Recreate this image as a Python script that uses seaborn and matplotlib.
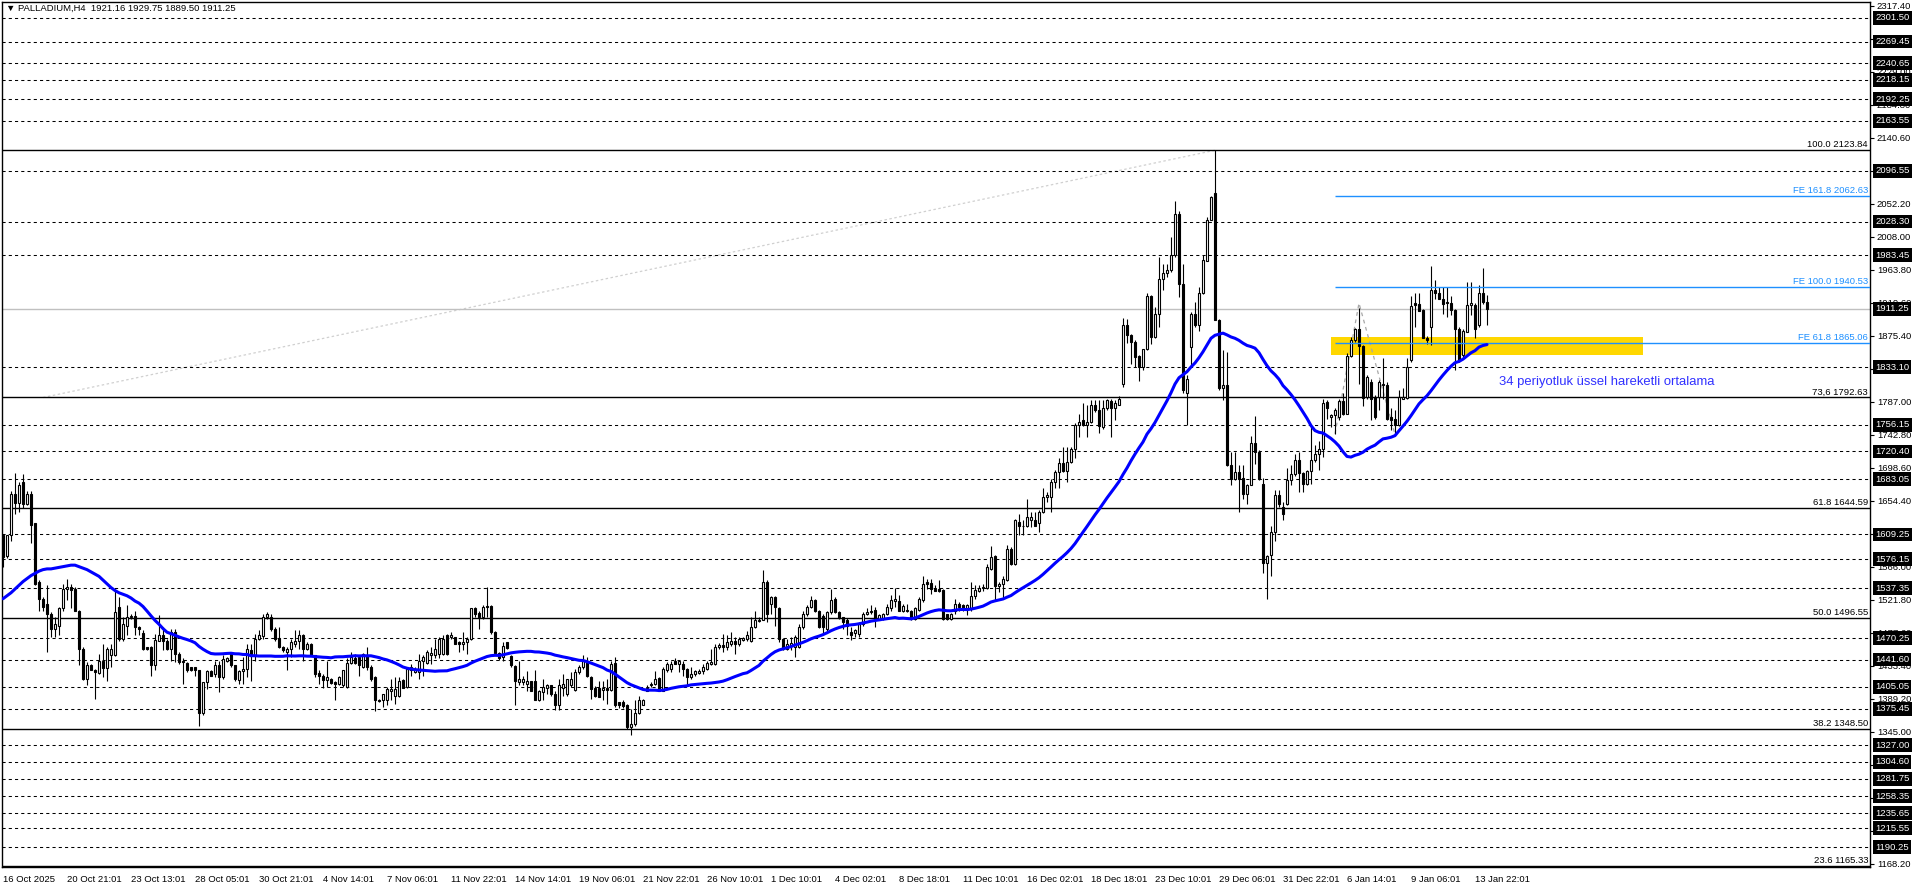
import numpy as np
import pandas as pd
import matplotlib
matplotlib.use("Agg")
import matplotlib.pyplot as plt
import matplotlib.patches as mpatches
import seaborn as sns

# ---------------- data (PALLADIUM H4) ----------------
opens = [
    1608, 1580, 1608, 1663, 1651, 1680, 1650, 1664, 1624, 1545, 1523, 1516, 1503, 1483, 1487, 1510, 1536, 1539, 1536, 1507,
    1456, 1416, 1434, 1428, 1423, 1440, 1430, 1447, 1447, 1512, 1469, 1487, 1498, 1500, 1485, 1477, 1458, 1459, 1434, 1467,
    1474, 1467, 1455, 1478, 1449, 1440, 1437, 1431, 1431, 1427, 1370, 1411, 1426, 1422, 1434, 1418, 1440, 1449, 1434, 1414,
    1426, 1429, 1454, 1447, 1469, 1473, 1498, 1498, 1483, 1471, 1459, 1451, 1455, 1463, 1467, 1474, 1456, 1463, 1447, 1424,
    1420, 1414, 1415, 1411, 1409, 1407, 1405, 1437, 1443, 1445, 1431, 1448, 1432, 1418, 1388, 1387, 1388, 1400, 1393, 1393,
    1414, 1405, 1427, 1425, 1425, 1440, 1437, 1448, 1447, 1449, 1449, 1474, 1472, 1472, 1465, 1463, 1465, 1469, 1510, 1504,
    1498, 1513, 1513, 1478, 1450, 1445, 1465, 1446, 1433, 1411, 1411, 1409, 1413, 1413, 1388, 1398, 1404, 1407, 1395, 1380,
    1404, 1396, 1407, 1401, 1425, 1431, 1438, 1418, 1404, 1403, 1401, 1404, 1401, 1437, 1384, 1384, 1380, 1351, 1355, 1370,
    1381, 1400, 1407, 1409, 1417, 1400, 1427, 1429, 1440, 1436, 1436, 1429, 1418, 1422, 1423, 1426, 1429, 1435, 1435, 1458,
    1461, 1458, 1463, 1467, 1462, 1468, 1469, 1467, 1485, 1493, 1494, 1545, 1516, 1525, 1510, 1469, 1456, 1460, 1458, 1458,
    1485, 1503, 1512, 1521, 1507, 1500, 1483, 1505, 1522, 1505, 1498, 1495, 1478, 1477, 1476, 1489, 1503, 1505, 1508, 1495,
    1497, 1502, 1511, 1520, 1520, 1507, 1507, 1507, 1496, 1508, 1521, 1545, 1544, 1536, 1536, 1535, 1503, 1496, 1507, 1516,
    1514, 1510, 1510, 1527, 1533, 1537, 1538, 1563, 1580, 1540, 1543, 1548, 1590, 1569, 1626, 1620, 1620, 1628, 1629, 1624,
    1639, 1659, 1659, 1680, 1693, 1705, 1694, 1706, 1723, 1756, 1762, 1756, 1760, 1783, 1776, 1753, 1778, 1788, 1779, 1783,
    1811, 1890, 1876, 1867, 1848, 1834, 1857, 1928, 1874, 1905, 1952, 1960, 1963, 1983, 2038, 1945, 1798, 1860, 1905, 1890,
    1933, 1976, 2031, 2067, 1897, 1805, 1809, 1702, 1683, 1693, 1685, 1663, 1676, 1732, 1720, 1677, 1571, 1581, 1612, 1662,
    1646, 1650, 1682, 1690, 1709, 1691, 1677, 1694, 1709, 1717, 1724, 1786, 1767, 1769, 1767, 1788, 1771, 1848, 1869, 1885,
    1861, 1793, 1813, 1793, 1793, 1809, 1810, 1766, 1764, 1756, 1791, 1792, 1843, 1919, 1918, 1910, 1873, 1887, 1936, 1933,
    1925, 1921, 1919, 1910, 1884, 1849, 1881, 1916, 1916, 1890, 1933, 1921.16,
]
highs = [
    1610, 1609, 1668, 1691, 1680, 1690, 1668, 1668, 1625, 1548, 1525, 1541, 1505, 1498, 1512, 1543, 1550, 1543, 1539, 1508,
    1458, 1438, 1436, 1429, 1449, 1463, 1458, 1463, 1536, 1525, 1498, 1514, 1503, 1507, 1487, 1481, 1459, 1460, 1476, 1501,
    1485, 1469, 1483, 1483, 1451, 1443, 1438, 1431, 1431, 1428, 1412, 1427, 1428, 1440, 1440, 1447, 1445, 1450, 1434, 1427,
    1445, 1463, 1463, 1476, 1481, 1503, 1505, 1503, 1485, 1485, 1460, 1458, 1469, 1481, 1481, 1476, 1465, 1464, 1448, 1427,
    1422, 1440, 1417, 1413, 1420, 1428, 1443, 1451, 1449, 1447, 1450, 1458, 1434, 1420, 1389, 1396, 1405, 1416, 1418, 1418,
    1416, 1431, 1436, 1431, 1449, 1447, 1454, 1458, 1469, 1472, 1475, 1476, 1478, 1472, 1467, 1478, 1472, 1511, 1512, 1507,
    1514, 1539, 1514, 1480, 1452, 1465, 1465, 1447, 1434, 1440, 1419, 1426, 1413, 1427, 1401, 1416, 1409, 1408, 1400, 1416,
    1422, 1416, 1425, 1429, 1434, 1447, 1445, 1420, 1406, 1413, 1413, 1416, 1440, 1445, 1384, 1387, 1382, 1375, 1388, 1393,
    1389, 1407, 1411, 1426, 1418, 1431, 1438, 1440, 1444, 1441, 1440, 1430, 1431, 1428, 1429, 1435, 1440, 1456, 1463, 1464,
    1476, 1474, 1478, 1472, 1472, 1472, 1480, 1498, 1507, 1498, 1562, 1548, 1527, 1527, 1512, 1470, 1469, 1472, 1474, 1489,
    1507, 1514, 1527, 1522, 1508, 1503, 1507, 1536, 1525, 1506, 1499, 1497, 1485, 1483, 1492, 1505, 1510, 1514, 1512, 1503,
    1504, 1516, 1528, 1538, 1528, 1516, 1516, 1508, 1512, 1525, 1554, 1550, 1549, 1541, 1548, 1536, 1503, 1504, 1523, 1518,
    1516, 1516, 1545, 1541, 1541, 1543, 1570, 1593, 1581, 1545, 1554, 1595, 1592, 1630, 1637, 1628, 1657, 1639, 1639, 1642,
    1671, 1666, 1684, 1695, 1711, 1726, 1726, 1726, 1758, 1771, 1785, 1782, 1789, 1789, 1789, 1789, 1791, 1791, 1789, 1794,
    1899, 1898, 1878, 1869, 1849, 1858, 1932, 1930, 1914, 1981, 1972, 1972, 2008, 2056, 2042, 1971, 1823, 1907, 1921, 1941,
    1983, 2035, 2063, 2123.84, 1898, 1856, 1854, 1720, 1720, 1702, 1702, 1677, 1741, 1768, 1722, 1685, 1581, 1620, 1669, 1669,
    1653, 1698, 1702, 1717, 1720, 1693, 1695, 1755, 1729, 1735, 1791, 1789, 1771, 1778, 1791, 1798, 1852, 1874, 1886, 1912,
    1863, 1823, 1818, 1796, 1816, 1845, 1814, 1778, 1776, 1803, 1805, 1845, 1928, 1932, 1933, 1911, 1875, 1969, 1950, 1941,
    1941, 1940, 1928, 1911, 1887, 1884, 1948, 1948, 1919, 1943, 1966, 1929.75,
]
lows = [
    1566, 1578, 1601, 1637, 1639, 1644, 1649, 1598, 1541, 1507, 1507, 1452, 1472, 1472, 1474, 1507, 1521, 1510, 1506, 1434,
    1414, 1407, 1427, 1389, 1422, 1418, 1413, 1431, 1446, 1467, 1467, 1474, 1496, 1474, 1474, 1454, 1454, 1420, 1427, 1466,
    1454, 1454, 1440, 1438, 1436, 1409, 1425, 1426, 1420, 1353, 1367, 1402, 1419, 1418, 1398, 1416, 1438, 1432, 1413, 1409,
    1409, 1418, 1413, 1440, 1468, 1469, 1496, 1480, 1467, 1457, 1451, 1428, 1445, 1458, 1456, 1440, 1454, 1446, 1418, 1409,
    1404, 1405, 1409, 1387, 1407, 1405, 1404, 1436, 1436, 1420, 1430, 1427, 1413, 1373, 1384, 1378, 1380, 1387, 1382, 1391,
    1403, 1404, 1420, 1424, 1416, 1420, 1436, 1436, 1443, 1443, 1448, 1447, 1469, 1462, 1451, 1454, 1449, 1468, 1498, 1483,
    1496, 1498, 1476, 1447, 1441, 1440, 1456, 1432, 1380, 1407, 1408, 1400, 1400, 1387, 1386, 1387, 1396, 1393, 1374, 1374,
    1393, 1393, 1405, 1400, 1422, 1429, 1418, 1389, 1391, 1391, 1387, 1382, 1400, 1378, 1376, 1376, 1349, 1340, 1353, 1369,
    1380, 1399, 1405, 1407, 1399, 1399, 1425, 1425, 1435, 1425, 1420, 1408, 1416, 1420, 1422, 1422, 1427, 1434, 1434, 1456,
    1451, 1454, 1460, 1449, 1460, 1467, 1467, 1465, 1484, 1492, 1494, 1492, 1503, 1487, 1465, 1454, 1454, 1454, 1445, 1457,
    1483, 1500, 1510, 1505, 1484, 1476, 1480, 1503, 1504, 1496, 1483, 1475, 1468, 1472, 1472, 1487, 1501, 1502, 1485, 1494,
    1494, 1501, 1507, 1512, 1506, 1505, 1505, 1495, 1495, 1506, 1519, 1536, 1530, 1533, 1532, 1495, 1495, 1495, 1503, 1506,
    1507, 1501, 1507, 1523, 1532, 1534, 1536, 1561, 1521, 1532, 1524, 1547, 1568, 1568, 1608, 1608, 1619, 1619, 1620, 1612,
    1638, 1653, 1639, 1671, 1671, 1693, 1680, 1705, 1711, 1740, 1755, 1740, 1758, 1773, 1745, 1751, 1776, 1740, 1762, 1782,
    1807, 1865, 1838, 1834, 1815, 1829, 1856, 1864, 1872, 1887, 1937, 1954, 1961, 1981, 1927, 1799, 1756, 1834, 1887, 1882,
    1931, 1975, 2030, 1896, 1803, 1789, 1701, 1675, 1682, 1639, 1657, 1650, 1675, 1704, 1682, 1557, 1523, 1554, 1601, 1646,
    1628, 1649, 1676, 1688, 1666, 1666, 1676, 1677, 1706, 1695, 1713, 1764, 1753, 1744, 1762, 1769, 1770, 1847, 1867, 1811,
    1781, 1791, 1762, 1764, 1776, 1791, 1763, 1749, 1743, 1755, 1790, 1791, 1840, 1887, 1908, 1872, 1864, 1863, 1925, 1924,
    1905, 1901, 1903, 1829, 1840, 1847, 1880, 1903, 1872, 1887, 1918, 1889.50,
]
closes = [
    1579, 1608, 1663, 1651, 1675, 1650, 1663, 1622, 1543, 1523, 1512, 1503, 1483, 1489, 1510, 1536, 1539, 1535, 1507, 1456,
    1416, 1434, 1428, 1425, 1440, 1430, 1456, 1456, 1505, 1469, 1489, 1498, 1500, 1485, 1483, 1455, 1455, 1434, 1468, 1474,
    1466, 1455, 1478, 1449, 1438, 1438, 1427, 1427, 1427, 1370, 1411, 1426, 1420, 1434, 1418, 1442, 1443, 1434, 1415, 1426,
    1429, 1456, 1447, 1469, 1475, 1498, 1503, 1483, 1469, 1458, 1454, 1456, 1465, 1467, 1474, 1456, 1463, 1447, 1422, 1420,
    1414, 1418, 1410, 1409, 1418, 1427, 1437, 1445, 1437, 1434, 1449, 1432, 1416, 1388, 1386, 1395, 1402, 1402, 1402, 1413,
    1404, 1429, 1432, 1429, 1440, 1445, 1452, 1450, 1456, 1469, 1469, 1449, 1474, 1463, 1463, 1465, 1469, 1510, 1503, 1498,
    1512, 1512, 1478, 1450, 1443, 1460, 1457, 1434, 1413, 1415, 1416, 1413, 1400, 1388, 1400, 1405, 1408, 1395, 1380, 1408,
    1409, 1416, 1416, 1425, 1431, 1439, 1420, 1402, 1393, 1392, 1404, 1401, 1436, 1380, 1380, 1379, 1351, 1355, 1370, 1388,
    1388, 1404, 1409, 1416, 1400, 1429, 1436, 1436, 1436, 1440, 1429, 1418, 1422, 1426, 1426, 1431, 1437, 1438, 1458, 1461,
    1458, 1465, 1467, 1462, 1469, 1470, 1475, 1485, 1495, 1495, 1545, 1503, 1525, 1512, 1469, 1456, 1463, 1464, 1472, 1485,
    1503, 1512, 1521, 1507, 1485, 1485, 1505, 1521, 1505, 1497, 1492, 1487, 1475, 1481, 1489, 1502, 1505, 1507, 1495, 1501,
    1503, 1512, 1521, 1522, 1507, 1513, 1508, 1496, 1511, 1522, 1543, 1543, 1536, 1534, 1534, 1496, 1496, 1503, 1516, 1512,
    1510, 1514, 1527, 1535, 1538, 1539, 1565, 1579, 1540, 1543, 1549, 1590, 1569, 1628, 1621, 1621, 1632, 1632, 1621, 1639,
    1659, 1662, 1680, 1693, 1705, 1694, 1706, 1723, 1756, 1760, 1756, 1760, 1783, 1776, 1754, 1778, 1789, 1779, 1785, 1791,
    1890, 1876, 1867, 1847, 1834, 1857, 1928, 1874, 1905, 1952, 1960, 1963, 1983, 2038, 1945, 1802, 1817, 1905, 1890, 1933,
    1977, 2031, 2061, 1897, 1805, 1809, 1702, 1683, 1693, 1683, 1663, 1675, 1732, 1720, 1683, 1571, 1580, 1612, 1662, 1650,
    1636, 1682, 1690, 1709, 1691, 1677, 1694, 1709, 1717, 1724, 1785, 1778, 1769, 1776, 1788, 1771, 1848, 1869, 1885, 1861,
    1792, 1820, 1791, 1767, 1814, 1811, 1764, 1763, 1756, 1793, 1793, 1833, 1915, 1916, 1909, 1873, 1869, 1936, 1933, 1925,
    1918, 1919, 1910, 1884, 1843, 1882, 1916, 1919, 1885, 1933, 1921, 1911.25,
]

# 34-bar moving average: the first bars depend on history left of the chart,
# so those values are read off the picture; the rest is the rolling mean.
ma_period = 34
ma_head = [1523, 1527, 1531, 1536, 1541, 1546, 1550, 1554, 1557, 1560, 1562, 1563, 1563, 1564, 1565, 1566, 1567,
           1568, 1568, 1566, 1564, 1562, 1559, 1556, 1553, 1548, 1543, 1538, 1534, 1531, 1529, 1527, 1524]

date_labels = ["16 Oct 2025", "20 Oct 21:01", "23 Oct 13:01", "28 Oct 05:01", "30 Oct 21:01",
               "4 Nov 14:01", "7 Nov 06:01", "11 Nov 22:01", "14 Nov 14:01", "19 Nov 06:01",
               "21 Nov 22:01", "26 Nov 10:01", "1 Dec 10:01", "4 Dec 02:01", "8 Dec 18:01",
               "11 Dec 10:01", "16 Dec 02:01", "18 Dec 18:01", "23 Dec 10:01", "29 Dec 06:01",
               "31 Dec 22:01", "6 Jan 14:01", "9 Jan 06:01", "13 Jan 22:01"]
bars_per_label = 16

# support / resistance levels (dashed) shown with black price tags
sr_levels = [2301.50, 2269.45, 2240.65, 2218.15, 2192.25, 2163.55, 2096.55, 2028.30, 1983.45,
             1833.10, 1756.15, 1720.40, 1683.05, 1609.25, 1576.15, 1537.35, 1470.25, 1441.60,
             1405.05, 1375.45, 1327.00, 1304.60, 1281.75, 1258.35, 1235.65, 1215.55, 1190.25]
fib_levels = [2123.84, 1792.63, 1644.59, 1496.55, 1348.50, 1165.33]
fib_names = ["100.0 2123.84", "73,6 1792.63", "61.8 1644.59", "50.0 1496.55", "38.2 1348.50", "23.6 1165.33"]
fe_levels = [2062.63, 1940.53, 1865.06]
fe_names = ["FE 161.8 2062.63", "FE 100.0 1940.53", "FE 61.8 1865.06"]
fe_start_bar = 333
fe_points_bar = [333, 339, 348]
fe_points_price = [1744.0, 1919.0, 1742.96]
trend_bar = [10, 303]
trend_price = [1792.6, 2123.84]
zone_bars = [332, 410]
zone_prices = [1850.0, 1873.3]
last_price = 1911.25
title = "\u25bc PALLADIUM,H4  1921.16 1929.75 1889.50 1911.25"
ema_note = "34 periyotluk \u00fcssel hareketli ortalama"
note_bar, note_price = 374, 1813

# axis ranges
price_ticks = np.arange(1168.20, 2320, 44.2)
y_min, y_max = 1163.6, 2322.5
x_min, x_max = -0.25, 466.75

# ---------------- plotting ----------------
sns.set_style("white")
plt.rcParams["font.family"] = ["Liberation Sans", "DejaVu Sans"]
FS = 6.8

W, H = 1916, 888
fig = plt.figure(figsize=(W / 100, H / 100), dpi=100)
ax = fig.add_axes([2 / W, 21 / H, 1868 / W, 865 / H])
ax.set_xlim(x_min, x_max)
ax.set_ylim(y_min, y_max)

o = np.array(opens, float)
h = np.array(highs, float)
l = np.array(lows, float)
c = np.array(closes, float)
idx = np.arange(len(c))

# horizontal levels
for lv in sr_levels:
    ax.axhline(lv, color="black", lw=0.75, ls=(0, (3, 3)), zorder=1.5)
for lv, name in zip(fib_levels, fib_names):
    ax.axhline(lv, color="black", lw=1.0, zorder=1.5)
    ax.annotate(name, xy=(1, lv), xycoords=("axes fraction", "data"), xytext=(-2, 1),
                textcoords="offset pixels", ha="right", va="bottom", fontsize=FS, color="black")
ax.axhline(last_price, color="#c0c0c0", lw=1.0, zorder=1.4)

# yellow zone
ax.add_patch(mpatches.Rectangle((zone_bars[0], zone_prices[0]), zone_bars[1] - zone_bars[0],
                                zone_prices[1] - zone_prices[0], facecolor="#ffd700",
                                edgecolor="none", zorder=1.2))

# fibo expansion lines
for lv, name in zip(fe_levels, fe_names):
    ax.hlines(lv, fe_start_bar, x_max, color="#1e90ff", lw=1.0, zorder=5)
    ax.annotate(name, xy=(1, lv), xycoords=("axes fraction", "data"), xytext=(-2, 1),
                textcoords="offset pixels", ha="right", va="bottom", fontsize=FS, color="#1e90ff")
ax.plot(fe_points_bar, fe_points_price, color="#a8a8a8", lw=0.9, ls=(0, (3, 3)), zorder=2)
ax.plot(trend_bar, trend_price, color="#d0d0d0", lw=0.9, ls=(0, (2, 2)), zorder=1.3)

# candles
up = c >= o
ax.vlines(idx, l, h, color="black", lw=0.8, zorder=3)
body_bot = np.minimum(o, c)
body_h = np.maximum(np.abs(c - o), 0.9)
ax.bar(idx[up], body_h[up], bottom=body_bot[up], width=0.55, color="white",
       edgecolor="black", linewidth=0.8, zorder=4)
ax.bar(idx[~up], body_h[~up], bottom=body_bot[~up], width=0.55, color="black",
       edgecolor="black", linewidth=0.8, zorder=4)

# 34-bar average line
ma = pd.Series(c).rolling(ma_period).mean().to_numpy()
ma[:len(ma_head)] = ma_head
sns.lineplot(x=idx, y=ma, color="#0000ff", lw=2.2, ax=ax, zorder=6, estimator=None, sort=False)
ax.text(note_bar, note_price, ema_note, color="#3030ff", fontsize=9.4, va="center", ha="left", zorder=7)

# axes styling
for s in ax.spines.values():
    s.set_color("black")
    s.set_linewidth(1.0)
ax.yaxis.tick_right()
ax.set_yticks(price_ticks)
ax.set_yticklabels([f"{v:.2f}" for v in price_ticks])
ax.tick_params(axis="y", direction="out", length=3, width=0.8, pad=2, labelsize=FS, colors="black")
xt = np.arange(len(date_labels)) * bars_per_label
ax.set_xticks(xt)
ax.set_xticklabels(date_labels, ha="left")
ax.tick_params(axis="x", direction="out", length=4, width=0.8, pad=2, labelsize=FS, colors="black")
ax.set_xlabel("")
ax.set_ylabel("")

# black price tags on the right scale
for lv in sr_levels + [last_price]:
    ax.annotate(f"{lv:.2f}", xy=(1, lv), xycoords=("axes fraction", "data"), xytext=(5, 0),
                textcoords="offset pixels", ha="left", va="center", fontsize=FS, color="white",
                bbox=dict(boxstyle="square,pad=0.25", fc="black", ec="none"),
                annotation_clip=False, zorder=10)

ax.annotate(title, xy=(0, 1), xycoords="axes fraction", xytext=(4, -2), textcoords="offset pixels",
            ha="left", va="top", fontsize=FS, color="black", zorder=10)

fig.savefig("out.png", dpi=100)
